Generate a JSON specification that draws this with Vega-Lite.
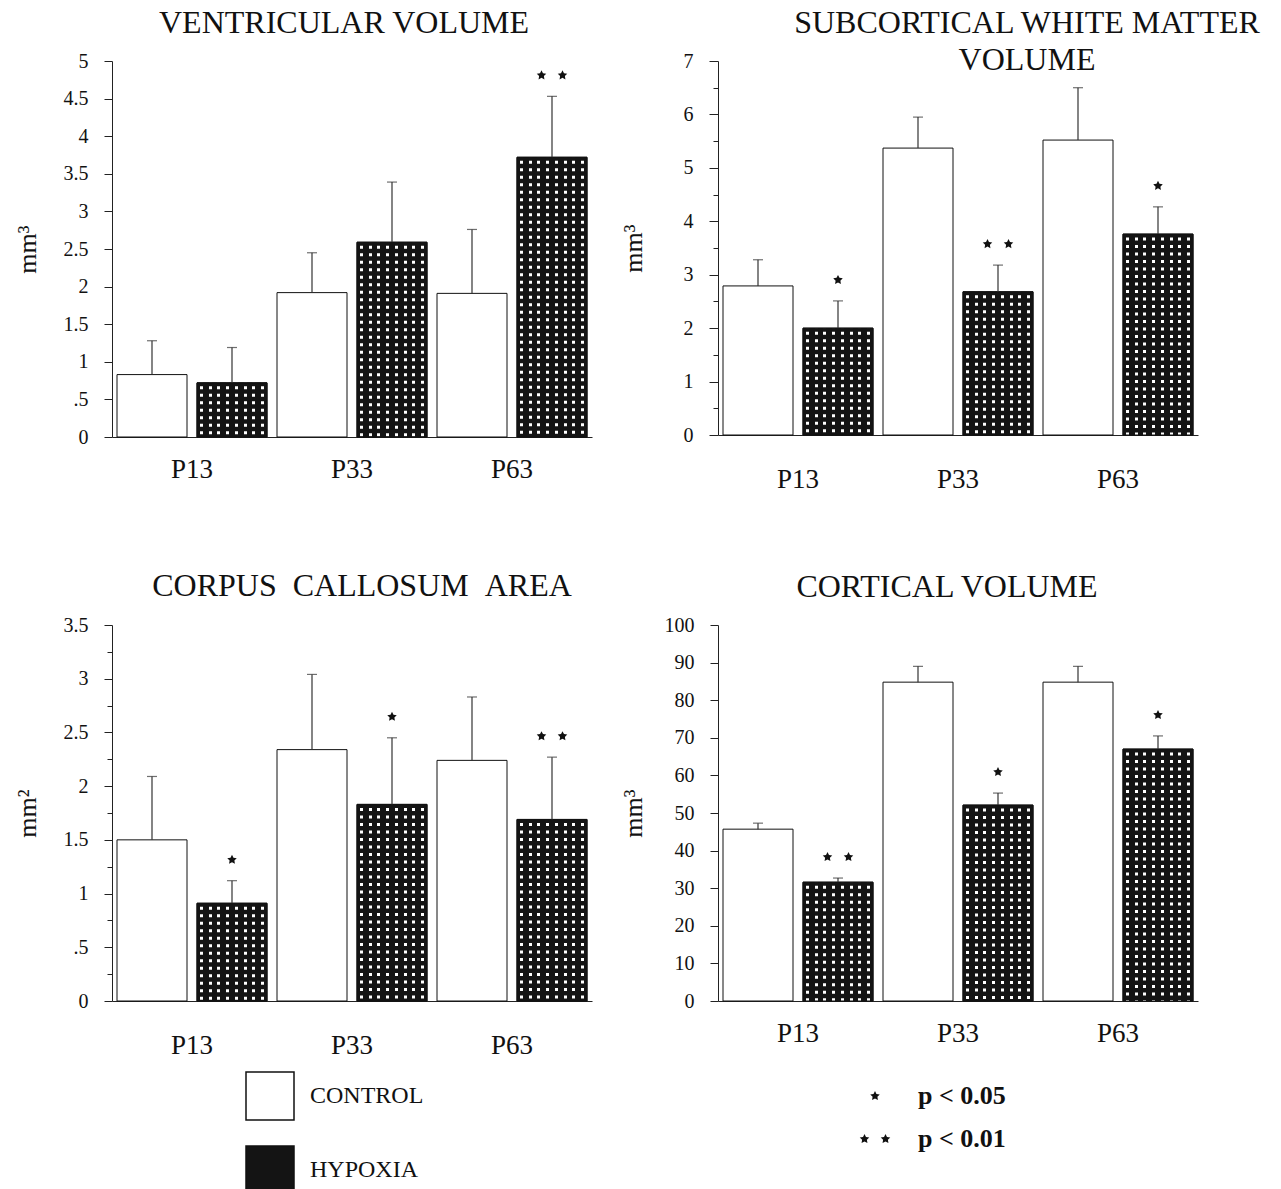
{
  "$schema": "https://vega.github.io/schema/vega-lite/v6.json",
  "padding": {"left": 14, "top": 7, "right": 0, "bottom": 0},
  "background": "white",
  "datasets": {
    "d": [
      {"panel": "V", "age": "P13", "group": "CONTROL", "mean": 0.83, "err": 1.28},
      {"panel": "V", "age": "P13", "group": "HYPOXIA", "mean": 0.72, "err": 1.19},
      {"panel": "V", "age": "P33", "group": "CONTROL", "mean": 1.92, "err": 2.45},
      {"panel": "V", "age": "P33", "group": "HYPOXIA", "mean": 2.59, "err": 3.39},
      {"panel": "V", "age": "P63", "group": "CONTROL", "mean": 1.91, "err": 2.76},
      {"panel": "V", "age": "P63", "group": "HYPOXIA", "mean": 3.72, "err": 4.53, "sig": "p < 0.01"},
      {"panel": "S", "age": "P13", "group": "CONTROL", "mean": 2.79, "err": 3.28},
      {"panel": "S", "age": "P13", "group": "HYPOXIA", "mean": 2.0, "err": 2.51, "sig": "p < 0.05"},
      {"panel": "S", "age": "P33", "group": "CONTROL", "mean": 5.37, "err": 5.95},
      {"panel": "S", "age": "P33", "group": "HYPOXIA", "mean": 2.68, "err": 3.18, "sig": "p < 0.01"},
      {"panel": "S", "age": "P63", "group": "CONTROL", "mean": 5.52, "err": 6.5},
      {"panel": "S", "age": "P63", "group": "HYPOXIA", "mean": 3.76, "err": 4.27, "sig": "p < 0.05"},
      {"panel": "C", "age": "P13", "group": "CONTROL", "mean": 1.5, "err": 2.09},
      {"panel": "C", "age": "P13", "group": "HYPOXIA", "mean": 0.91, "err": 1.12, "sig": "p < 0.05"},
      {"panel": "C", "age": "P33", "group": "CONTROL", "mean": 2.34, "err": 3.04},
      {"panel": "C", "age": "P33", "group": "HYPOXIA", "mean": 1.83, "err": 2.45, "sig": "p < 0.05"},
      {"panel": "C", "age": "P63", "group": "CONTROL", "mean": 2.24, "err": 2.83},
      {"panel": "C", "age": "P63", "group": "HYPOXIA", "mean": 1.69, "err": 2.27, "sig": "p < 0.01"},
      {"panel": "K", "age": "P13", "group": "CONTROL", "mean": 45.7, "err": 47.3},
      {"panel": "K", "age": "P13", "group": "HYPOXIA", "mean": 31.6, "err": 32.7, "sig": "p < 0.01"},
      {"panel": "K", "age": "P33", "group": "CONTROL", "mean": 84.8, "err": 89},
      {"panel": "K", "age": "P33", "group": "HYPOXIA", "mean": 52.1, "err": 55.3, "sig": "p < 0.05"},
      {"panel": "K", "age": "P63", "group": "CONTROL", "mean": 84.8, "err": 89},
      {"panel": "K", "age": "P63", "group": "HYPOXIA", "mean": 67, "err": 70.5, "sig": "p < 0.05"}
    ]
  },
  "columns": 2,
  "spacing": {"row": 188, "column": 126},
  "bounds": "flush",
  "resolve": {"scale": {"x": "independent", "y": "independent"}},
  "concat": [
    {
      "width": 480, "height": 376,
      "data": {"name": "d"},
      "transform": [{"filter": "datum.panel == 'V'"}],
      "title": {"text": "VENTRICULAR VOLUME", "dx": -8, "offset": -14, "baseline": "alphabetic", "anchor": "middle"},
      "encoding": {
        "x": {"field": "age", "type": "nominal", "title": null, "scale": {"domain": ["P13", "P33", "P63"], "paddingInner": 0, "paddingOuter": 0}, "axis": {"labelPadding": 19}},
        "xOffset": {"field": "group", "type": "nominal", "scale": {"domain": ["CONTROL", "HYPOXIA"], "paddingInner": 0.125, "paddingOuter": 0.0625}}
      },
      "layer": [
        {"mark": {"type": "bar", "stroke": "#111", "strokeWidth": 1},
         "encoding": {
           "y": {"field": "mean", "type": "quantitative", "title": "mm³", "scale": {"domain": [0, 5], "nice": false}, "axis": {"values": [0, 0.5, 1, 1.5, 2, 2.5, 3, 3.5, 4, 4.5, 5], "format": "~g", "labelExpr": "datum.value == 0.5 ? '.5' : datum.label"}},
           "fill": {"field": "group", "type": "nominal", "scale": {"domain": ["CONTROL", "HYPOXIA"], "range": ["#ffffff", "#141414"]}, "legend": {"title": null, "orient": "none", "legendX": 133, "legendY": 1010, "direction": "vertical", "symbolType": "square", "symbolSize": 2304, "symbolStrokeColor": "#111", "symbolStrokeWidth": 1.5, "labelFontSize": 24, "labelOffset": 15, "rowPadding": 20, "padding": 0, "labelColor": "#111"}}
         }},
        {"transform": [{"filter": "datum.group == 'HYPOXIA'"}],
         "mark": {"type": "rule", "color": "white", "strokeWidth": 68, "strokeDash": [3, 4.5], "strokeDashOffset": 4, "strokeCap": "butt"},
         "encoding": {"y": {"field": "mean", "type": "quantitative", "title": "mm³", "axis": {"values": [0, 0.5, 1, 1.5, 2, 2.5, 3, 3.5, 4, 4.5, 5], "format": "~g", "labelExpr": "datum.value == 0.5 ? '.5' : datum.label"}}, "y2": {"datum": 0}}},
        {"transform": [{"filter": "datum.group == 'HYPOXIA'"}],
         "mark": {"type": "bar", "stroke": "#111", "strokeWidth": 1, "fill": {"gradient": "linear", "x1": 0, "y1": 0, "x2": 1, "y2": 0, "stops": [
           {"offset": 0, "color": "#141414"}, {"offset": 0.041, "color": "#141414"}, {"offset": 0.041, "color": "rgba(20,20,20,0)"}, {"offset": 0.084, "color": "rgba(20,20,20,0)"}, {"offset": 0.084, "color": "#141414"},
           {"offset": 0.166, "color": "#141414"}, {"offset": 0.166, "color": "rgba(20,20,20,0)"}, {"offset": 0.209, "color": "rgba(20,20,20,0)"}, {"offset": 0.209, "color": "#141414"},
           {"offset": 0.291, "color": "#141414"}, {"offset": 0.291, "color": "rgba(20,20,20,0)"}, {"offset": 0.334, "color": "rgba(20,20,20,0)"}, {"offset": 0.334, "color": "#141414"},
           {"offset": 0.416, "color": "#141414"}, {"offset": 0.416, "color": "rgba(20,20,20,0)"}, {"offset": 0.459, "color": "rgba(20,20,20,0)"}, {"offset": 0.459, "color": "#141414"},
           {"offset": 0.541, "color": "#141414"}, {"offset": 0.541, "color": "rgba(20,20,20,0)"}, {"offset": 0.584, "color": "rgba(20,20,20,0)"}, {"offset": 0.584, "color": "#141414"},
           {"offset": 0.666, "color": "#141414"}, {"offset": 0.666, "color": "rgba(20,20,20,0)"}, {"offset": 0.709, "color": "rgba(20,20,20,0)"}, {"offset": 0.709, "color": "#141414"},
           {"offset": 0.791, "color": "#141414"}, {"offset": 0.791, "color": "rgba(20,20,20,0)"}, {"offset": 0.834, "color": "rgba(20,20,20,0)"}, {"offset": 0.834, "color": "#141414"},
           {"offset": 0.916, "color": "#141414"}, {"offset": 0.916, "color": "rgba(20,20,20,0)"}, {"offset": 0.959, "color": "rgba(20,20,20,0)"}, {"offset": 0.959, "color": "#141414"},
           {"offset": 1, "color": "#141414"}]}},
         "encoding": {"y": {"field": "mean", "type": "quantitative", "title": "mm³", "axis": {"values": [0, 0.5, 1, 1.5, 2, 2.5, 3, 3.5, 4, 4.5, 5], "format": "~g", "labelExpr": "datum.value == 0.5 ? '.5' : datum.label"}}}},
        {"mark": {"type": "rule", "color": "#333", "strokeWidth": 1.2},
         "encoding": {"y": {"field": "mean", "type": "quantitative", "title": "mm³", "axis": {"values": [0, 0.5, 1, 1.5, 2, 2.5, 3, 3.5, 4, 4.5, 5], "format": "~g", "labelExpr": "datum.value == 0.5 ? '.5' : datum.label"}}, "y2": {"field": "err"}}},
        {"mark": {"type": "tick", "color": "#333", "size": 10, "thickness": 1.2, "orient": "horizontal"},
         "encoding": {"y": {"field": "err", "type": "quantitative", "title": "mm³", "axis": {"values": [0, 0.5, 1, 1.5, 2, 2.5, 3, 3.5, 4, 4.5, 5], "format": "~g", "labelExpr": "datum.value == 0.5 ? '.5' : datum.label"}}}},
        {"transform": [{"filter": "isValid(datum.sig)"}],
         "mark": {"type": "point", "filled": true, "color": "#111", "opacity": 1, "size": 100, "yOffset": -21},
         "encoding": {"y": {"field": "err", "type": "quantitative", "title": "mm³", "axis": {"values": [0, 0.5, 1, 1.5, 2, 2.5, 3, 3.5, 4, 4.5, 5], "format": "~g", "labelExpr": "datum.value == 0.5 ? '.5' : datum.label"}},
           "shape": {"field": "sig", "type": "nominal", "scale": {"domain": ["p < 0.05", "p < 0.01"], "range": ["M0,-1L0.294,-0.405L0.951,-0.309L0.476,0.155L0.588,0.809L0,0.5L-0.588,0.809L-0.476,0.155L-0.951,-0.309L-0.294,-0.405Z", "M-2.1,-1L-1.806,-0.405L-1.149,-0.309L-1.624,0.155L-1.512,0.809L-2.1,0.5L-2.688,0.809L-2.576,0.155L-3.051,-0.309L-2.394,-0.405ZM2.1,-1L2.394,-0.405L3.051,-0.309L2.576,0.155L2.688,0.809L2.1,0.5L1.512,0.809L1.624,0.155L1.149,-0.309L1.806,-0.405Z"]},
             "legend": {"title": null, "orient": "none", "legendX": 750, "legendY": 1022, "direction": "vertical", "symbolSize": 100, "symbolFillColor": "#111", "symbolStrokeWidth": 0, "labelFontSize": 26, "labelFontWeight": "bold", "labelOffset": 30, "rowPadding": 17, "padding": 0, "labelColor": "#111"}}}}
      ]
    },
    {
      "width": 480, "height": 374,
      "data": {"name": "d"},
      "transform": [{"filter": "datum.panel == 'S'"}],
      "title": {"text": ["SUBCORTICAL WHITE MATTER", "VOLUME"], "dx": 69, "offset": -51, "baseline": "alphabetic", "anchor": "middle", "lineHeight": 37},
      "encoding": {
        "x": {"field": "age", "type": "nominal", "title": null, "scale": {"domain": ["P13", "P33", "P63"], "paddingInner": 0, "paddingOuter": 0}, "axis": {"labelPadding": 31}},
        "xOffset": {"field": "group", "type": "nominal", "scale": {"domain": ["CONTROL", "HYPOXIA"], "paddingInner": 0.125, "paddingOuter": 0.0625}}
      },
      "layer": [
        {"mark": {"type": "bar", "stroke": "#111", "strokeWidth": 1},
         "encoding": {
           "y": {"field": "mean", "type": "quantitative", "title": "mm³", "scale": {"domain": [0, 7], "nice": false}, "axis": {"values": [0, 0.5, 1, 1.5, 2, 2.5, 3, 3.5, 4, 4.5, 5, 5.5, 6, 6.5, 7], "format": "~g", "labelExpr": "datum.value % 1 == 0 ? datum.label : ''", "tickSize": {"condition": {"test": "datum.value % 1 == 0", "value": 9}, "value": 5}}},
           "fill": {"field": "group", "type": "nominal", "scale": {"domain": ["CONTROL", "HYPOXIA"], "range": ["#ffffff", "#141414"]}, "legend": {"title": null, "orient": "none", "legendX": 133, "legendY": 1010, "direction": "vertical", "symbolType": "square", "symbolSize": 2304, "symbolStrokeColor": "#111", "symbolStrokeWidth": 1.5, "labelFontSize": 24, "labelOffset": 15, "rowPadding": 20, "padding": 0, "labelColor": "#111"}}
         }},
        {"transform": [{"filter": "datum.group == 'HYPOXIA'"}],
         "mark": {"type": "rule", "color": "white", "strokeWidth": 68, "strokeDash": [3, 4.5], "strokeDashOffset": 4, "strokeCap": "butt"},
         "encoding": {"y": {"field": "mean", "type": "quantitative", "title": "mm³", "axis": {"values": [0, 0.5, 1, 1.5, 2, 2.5, 3, 3.5, 4, 4.5, 5, 5.5, 6, 6.5, 7], "format": "~g", "labelExpr": "datum.value % 1 == 0 ? datum.label : ''", "tickSize": {"condition": {"test": "datum.value % 1 == 0", "value": 9}, "value": 5}}}, "y2": {"datum": 0}}},
        {"transform": [{"filter": "datum.group == 'HYPOXIA'"}],
         "mark": {"type": "bar", "stroke": "#111", "strokeWidth": 1, "fill": {"gradient": "linear", "x1": 0, "y1": 0, "x2": 1, "y2": 0, "stops": [
           {"offset": 0, "color": "#141414"}, {"offset": 0.041, "color": "#141414"}, {"offset": 0.041, "color": "rgba(20,20,20,0)"}, {"offset": 0.084, "color": "rgba(20,20,20,0)"}, {"offset": 0.084, "color": "#141414"},
           {"offset": 0.166, "color": "#141414"}, {"offset": 0.166, "color": "rgba(20,20,20,0)"}, {"offset": 0.209, "color": "rgba(20,20,20,0)"}, {"offset": 0.209, "color": "#141414"},
           {"offset": 0.291, "color": "#141414"}, {"offset": 0.291, "color": "rgba(20,20,20,0)"}, {"offset": 0.334, "color": "rgba(20,20,20,0)"}, {"offset": 0.334, "color": "#141414"},
           {"offset": 0.416, "color": "#141414"}, {"offset": 0.416, "color": "rgba(20,20,20,0)"}, {"offset": 0.459, "color": "rgba(20,20,20,0)"}, {"offset": 0.459, "color": "#141414"},
           {"offset": 0.541, "color": "#141414"}, {"offset": 0.541, "color": "rgba(20,20,20,0)"}, {"offset": 0.584, "color": "rgba(20,20,20,0)"}, {"offset": 0.584, "color": "#141414"},
           {"offset": 0.666, "color": "#141414"}, {"offset": 0.666, "color": "rgba(20,20,20,0)"}, {"offset": 0.709, "color": "rgba(20,20,20,0)"}, {"offset": 0.709, "color": "#141414"},
           {"offset": 0.791, "color": "#141414"}, {"offset": 0.791, "color": "rgba(20,20,20,0)"}, {"offset": 0.834, "color": "rgba(20,20,20,0)"}, {"offset": 0.834, "color": "#141414"},
           {"offset": 0.916, "color": "#141414"}, {"offset": 0.916, "color": "rgba(20,20,20,0)"}, {"offset": 0.959, "color": "rgba(20,20,20,0)"}, {"offset": 0.959, "color": "#141414"},
           {"offset": 1, "color": "#141414"}]}},
         "encoding": {"y": {"field": "mean", "type": "quantitative", "title": "mm³", "axis": {"values": [0, 0.5, 1, 1.5, 2, 2.5, 3, 3.5, 4, 4.5, 5, 5.5, 6, 6.5, 7], "format": "~g", "labelExpr": "datum.value % 1 == 0 ? datum.label : ''", "tickSize": {"condition": {"test": "datum.value % 1 == 0", "value": 9}, "value": 5}}}}},
        {"mark": {"type": "rule", "color": "#333", "strokeWidth": 1.2},
         "encoding": {"y": {"field": "mean", "type": "quantitative", "title": "mm³", "axis": {"values": [0, 0.5, 1, 1.5, 2, 2.5, 3, 3.5, 4, 4.5, 5, 5.5, 6, 6.5, 7], "format": "~g", "labelExpr": "datum.value % 1 == 0 ? datum.label : ''", "tickSize": {"condition": {"test": "datum.value % 1 == 0", "value": 9}, "value": 5}}}, "y2": {"field": "err"}}},
        {"mark": {"type": "tick", "color": "#333", "size": 10, "thickness": 1.2, "orient": "horizontal"},
         "encoding": {"y": {"field": "err", "type": "quantitative", "title": "mm³", "axis": {"values": [0, 0.5, 1, 1.5, 2, 2.5, 3, 3.5, 4, 4.5, 5, 5.5, 6, 6.5, 7], "format": "~g", "labelExpr": "datum.value % 1 == 0 ? datum.label : ''", "tickSize": {"condition": {"test": "datum.value % 1 == 0", "value": 9}, "value": 5}}}}},
        {"transform": [{"filter": "isValid(datum.sig)"}],
         "mark": {"type": "point", "filled": true, "color": "#111", "opacity": 1, "size": 100, "yOffset": -21},
         "encoding": {"y": {"field": "err", "type": "quantitative", "title": "mm³", "axis": {"values": [0, 0.5, 1, 1.5, 2, 2.5, 3, 3.5, 4, 4.5, 5, 5.5, 6, 6.5, 7], "format": "~g", "labelExpr": "datum.value % 1 == 0 ? datum.label : ''", "tickSize": {"condition": {"test": "datum.value % 1 == 0", "value": 9}, "value": 5}}},
           "shape": {"field": "sig", "type": "nominal", "scale": {"domain": ["p < 0.05", "p < 0.01"], "range": ["M0,-1L0.294,-0.405L0.951,-0.309L0.476,0.155L0.588,0.809L0,0.5L-0.588,0.809L-0.476,0.155L-0.951,-0.309L-0.294,-0.405Z", "M-2.1,-1L-1.806,-0.405L-1.149,-0.309L-1.624,0.155L-1.512,0.809L-2.1,0.5L-2.688,0.809L-2.576,0.155L-3.051,-0.309L-2.394,-0.405ZM2.1,-1L2.394,-0.405L3.051,-0.309L2.576,0.155L2.688,0.809L2.1,0.5L1.512,0.809L1.624,0.155L1.149,-0.309L1.806,-0.405Z"]},
             "legend": {"title": null, "orient": "none", "legendX": 750, "legendY": 1022, "direction": "vertical", "symbolSize": 100, "symbolFillColor": "#111", "symbolStrokeWidth": 0, "labelFontSize": 26, "labelFontWeight": "bold", "labelOffset": 30, "rowPadding": 17, "padding": 0, "labelColor": "#111"}}}}
      ]
    },
    {
      "width": 480, "height": 376,
      "data": {"name": "d"},
      "transform": [{"filter": "datum.panel == 'C'"}],
      "title": {"text": "CORPUS\u00a0\u00a0CALLOSUM\u00a0\u00a0AREA", "dx": 10, "offset": -13, "baseline": "alphabetic", "anchor": "middle"},
      "encoding": {
        "x": {"field": "age", "type": "nominal", "title": null, "scale": {"domain": ["P13", "P33", "P63"], "paddingInner": 0, "paddingOuter": 0}, "axis": {"labelPadding": 31}},
        "xOffset": {"field": "group", "type": "nominal", "scale": {"domain": ["CONTROL", "HYPOXIA"], "paddingInner": 0.125, "paddingOuter": 0.0625}}
      },
      "layer": [
        {"mark": {"type": "bar", "stroke": "#111", "strokeWidth": 1},
         "encoding": {
           "y": {"field": "mean", "type": "quantitative", "title": "mm²", "scale": {"domain": [0, 3.5], "nice": false}, "axis": {"values": [0, 0.25, 0.5, 0.75, 1, 1.25, 1.5, 1.75, 2, 2.25, 2.5, 2.75, 3, 3.25, 3.5], "format": "~g", "labelExpr": "datum.value % 0.5 == 0 ? (datum.value == 0.5 ? '.5' : datum.label) : ''", "tickSize": {"condition": {"test": "datum.value % 0.5 == 0", "value": 8}, "value": 5}}},
           "fill": {"field": "group", "type": "nominal", "scale": {"domain": ["CONTROL", "HYPOXIA"], "range": ["#ffffff", "#141414"]}, "legend": {"title": null, "orient": "none", "legendX": 133, "legendY": 1010, "direction": "vertical", "symbolType": "square", "symbolSize": 2304, "symbolStrokeColor": "#111", "symbolStrokeWidth": 1.5, "labelFontSize": 24, "labelOffset": 15, "rowPadding": 20, "padding": 0, "labelColor": "#111"}}
         }},
        {"transform": [{"filter": "datum.group == 'HYPOXIA'"}],
         "mark": {"type": "rule", "color": "white", "strokeWidth": 68, "strokeDash": [3, 4.5], "strokeDashOffset": 4, "strokeCap": "butt"},
         "encoding": {"y": {"field": "mean", "type": "quantitative", "title": "mm²", "axis": {"values": [0, 0.25, 0.5, 0.75, 1, 1.25, 1.5, 1.75, 2, 2.25, 2.5, 2.75, 3, 3.25, 3.5], "format": "~g", "labelExpr": "datum.value % 0.5 == 0 ? (datum.value == 0.5 ? '.5' : datum.label) : ''", "tickSize": {"condition": {"test": "datum.value % 0.5 == 0", "value": 8}, "value": 5}}}, "y2": {"datum": 0}}},
        {"transform": [{"filter": "datum.group == 'HYPOXIA'"}],
         "mark": {"type": "bar", "stroke": "#111", "strokeWidth": 1, "fill": {"gradient": "linear", "x1": 0, "y1": 0, "x2": 1, "y2": 0, "stops": [
           {"offset": 0, "color": "#141414"}, {"offset": 0.041, "color": "#141414"}, {"offset": 0.041, "color": "rgba(20,20,20,0)"}, {"offset": 0.084, "color": "rgba(20,20,20,0)"}, {"offset": 0.084, "color": "#141414"},
           {"offset": 0.166, "color": "#141414"}, {"offset": 0.166, "color": "rgba(20,20,20,0)"}, {"offset": 0.209, "color": "rgba(20,20,20,0)"}, {"offset": 0.209, "color": "#141414"},
           {"offset": 0.291, "color": "#141414"}, {"offset": 0.291, "color": "rgba(20,20,20,0)"}, {"offset": 0.334, "color": "rgba(20,20,20,0)"}, {"offset": 0.334, "color": "#141414"},
           {"offset": 0.416, "color": "#141414"}, {"offset": 0.416, "color": "rgba(20,20,20,0)"}, {"offset": 0.459, "color": "rgba(20,20,20,0)"}, {"offset": 0.459, "color": "#141414"},
           {"offset": 0.541, "color": "#141414"}, {"offset": 0.541, "color": "rgba(20,20,20,0)"}, {"offset": 0.584, "color": "rgba(20,20,20,0)"}, {"offset": 0.584, "color": "#141414"},
           {"offset": 0.666, "color": "#141414"}, {"offset": 0.666, "color": "rgba(20,20,20,0)"}, {"offset": 0.709, "color": "rgba(20,20,20,0)"}, {"offset": 0.709, "color": "#141414"},
           {"offset": 0.791, "color": "#141414"}, {"offset": 0.791, "color": "rgba(20,20,20,0)"}, {"offset": 0.834, "color": "rgba(20,20,20,0)"}, {"offset": 0.834, "color": "#141414"},
           {"offset": 0.916, "color": "#141414"}, {"offset": 0.916, "color": "rgba(20,20,20,0)"}, {"offset": 0.959, "color": "rgba(20,20,20,0)"}, {"offset": 0.959, "color": "#141414"},
           {"offset": 1, "color": "#141414"}]}},
         "encoding": {"y": {"field": "mean", "type": "quantitative", "title": "mm²", "axis": {"values": [0, 0.25, 0.5, 0.75, 1, 1.25, 1.5, 1.75, 2, 2.25, 2.5, 2.75, 3, 3.25, 3.5], "format": "~g", "labelExpr": "datum.value % 0.5 == 0 ? (datum.value == 0.5 ? '.5' : datum.label) : ''", "tickSize": {"condition": {"test": "datum.value % 0.5 == 0", "value": 8}, "value": 5}}}}},
        {"mark": {"type": "rule", "color": "#333", "strokeWidth": 1.2},
         "encoding": {"y": {"field": "mean", "type": "quantitative", "title": "mm²", "axis": {"values": [0, 0.25, 0.5, 0.75, 1, 1.25, 1.5, 1.75, 2, 2.25, 2.5, 2.75, 3, 3.25, 3.5], "format": "~g", "labelExpr": "datum.value % 0.5 == 0 ? (datum.value == 0.5 ? '.5' : datum.label) : ''", "tickSize": {"condition": {"test": "datum.value % 0.5 == 0", "value": 8}, "value": 5}}}, "y2": {"field": "err"}}},
        {"mark": {"type": "tick", "color": "#333", "size": 10, "thickness": 1.2, "orient": "horizontal"},
         "encoding": {"y": {"field": "err", "type": "quantitative", "title": "mm²", "axis": {"values": [0, 0.25, 0.5, 0.75, 1, 1.25, 1.5, 1.75, 2, 2.25, 2.5, 2.75, 3, 3.25, 3.5], "format": "~g", "labelExpr": "datum.value % 0.5 == 0 ? (datum.value == 0.5 ? '.5' : datum.label) : ''", "tickSize": {"condition": {"test": "datum.value % 0.5 == 0", "value": 8}, "value": 5}}}}},
        {"transform": [{"filter": "isValid(datum.sig)"}],
         "mark": {"type": "point", "filled": true, "color": "#111", "opacity": 1, "size": 100, "yOffset": -21},
         "encoding": {"y": {"field": "err", "type": "quantitative", "title": "mm²", "axis": {"values": [0, 0.25, 0.5, 0.75, 1, 1.25, 1.5, 1.75, 2, 2.25, 2.5, 2.75, 3, 3.25, 3.5], "format": "~g", "labelExpr": "datum.value % 0.5 == 0 ? (datum.value == 0.5 ? '.5' : datum.label) : ''", "tickSize": {"condition": {"test": "datum.value % 0.5 == 0", "value": 8}, "value": 5}}},
           "shape": {"field": "sig", "type": "nominal", "scale": {"domain": ["p < 0.05", "p < 0.01"], "range": ["M0,-1L0.294,-0.405L0.951,-0.309L0.476,0.155L0.588,0.809L0,0.5L-0.588,0.809L-0.476,0.155L-0.951,-0.309L-0.294,-0.405Z", "M-2.1,-1L-1.806,-0.405L-1.149,-0.309L-1.624,0.155L-1.512,0.809L-2.1,0.5L-2.688,0.809L-2.576,0.155L-3.051,-0.309L-2.394,-0.405ZM2.1,-1L2.394,-0.405L3.051,-0.309L2.576,0.155L2.688,0.809L2.1,0.5L1.512,0.809L1.624,0.155L1.149,-0.309L1.806,-0.405Z"]},
             "legend": {"title": null, "orient": "none", "legendX": 750, "legendY": 1022, "direction": "vertical", "symbolSize": 100, "symbolFillColor": "#111", "symbolStrokeWidth": 0, "labelFontSize": 26, "labelFontWeight": "bold", "labelOffset": 30, "rowPadding": 17, "padding": 0, "labelColor": "#111"}}}}
      ]
    },
    {
      "width": 480, "height": 376,
      "data": {"name": "d"},
      "transform": [{"filter": "datum.panel == 'K'"}],
      "title": {"text": "CORTICAL VOLUME", "dx": -11, "offset": -14, "baseline": "alphabetic", "anchor": "middle"},
      "encoding": {
        "x": {"field": "age", "type": "nominal", "title": null, "scale": {"domain": ["P13", "P33", "P63"], "paddingInner": 0, "paddingOuter": 0}, "axis": {"labelPadding": 19}},
        "xOffset": {"field": "group", "type": "nominal", "scale": {"domain": ["CONTROL", "HYPOXIA"], "paddingInner": 0.125, "paddingOuter": 0.0625}}
      },
      "layer": [
        {"mark": {"type": "bar", "stroke": "#111", "strokeWidth": 1},
         "encoding": {
           "y": {"field": "mean", "type": "quantitative", "title": "mm³", "scale": {"domain": [0, 100], "nice": false}, "axis": {"values": [0, 10, 20, 30, 40, 50, 60, 70, 80, 90, 100], "format": "d"}},
           "fill": {"field": "group", "type": "nominal", "scale": {"domain": ["CONTROL", "HYPOXIA"], "range": ["#ffffff", "#141414"]}, "legend": {"title": null, "orient": "none", "legendX": 133, "legendY": 1010, "direction": "vertical", "symbolType": "square", "symbolSize": 2304, "symbolStrokeColor": "#111", "symbolStrokeWidth": 1.5, "labelFontSize": 24, "labelOffset": 15, "rowPadding": 20, "padding": 0, "labelColor": "#111"}}
         }},
        {"transform": [{"filter": "datum.group == 'HYPOXIA'"}],
         "mark": {"type": "rule", "color": "white", "strokeWidth": 68, "strokeDash": [3, 4.5], "strokeDashOffset": 4, "strokeCap": "butt"},
         "encoding": {"y": {"field": "mean", "type": "quantitative", "title": "mm³", "axis": {"values": [0, 10, 20, 30, 40, 50, 60, 70, 80, 90, 100], "format": "d"}}, "y2": {"datum": 0}}},
        {"transform": [{"filter": "datum.group == 'HYPOXIA'"}],
         "mark": {"type": "bar", "stroke": "#111", "strokeWidth": 1, "fill": {"gradient": "linear", "x1": 0, "y1": 0, "x2": 1, "y2": 0, "stops": [
           {"offset": 0, "color": "#141414"}, {"offset": 0.041, "color": "#141414"}, {"offset": 0.041, "color": "rgba(20,20,20,0)"}, {"offset": 0.084, "color": "rgba(20,20,20,0)"}, {"offset": 0.084, "color": "#141414"},
           {"offset": 0.166, "color": "#141414"}, {"offset": 0.166, "color": "rgba(20,20,20,0)"}, {"offset": 0.209, "color": "rgba(20,20,20,0)"}, {"offset": 0.209, "color": "#141414"},
           {"offset": 0.291, "color": "#141414"}, {"offset": 0.291, "color": "rgba(20,20,20,0)"}, {"offset": 0.334, "color": "rgba(20,20,20,0)"}, {"offset": 0.334, "color": "#141414"},
           {"offset": 0.416, "color": "#141414"}, {"offset": 0.416, "color": "rgba(20,20,20,0)"}, {"offset": 0.459, "color": "rgba(20,20,20,0)"}, {"offset": 0.459, "color": "#141414"},
           {"offset": 0.541, "color": "#141414"}, {"offset": 0.541, "color": "rgba(20,20,20,0)"}, {"offset": 0.584, "color": "rgba(20,20,20,0)"}, {"offset": 0.584, "color": "#141414"},
           {"offset": 0.666, "color": "#141414"}, {"offset": 0.666, "color": "rgba(20,20,20,0)"}, {"offset": 0.709, "color": "rgba(20,20,20,0)"}, {"offset": 0.709, "color": "#141414"},
           {"offset": 0.791, "color": "#141414"}, {"offset": 0.791, "color": "rgba(20,20,20,0)"}, {"offset": 0.834, "color": "rgba(20,20,20,0)"}, {"offset": 0.834, "color": "#141414"},
           {"offset": 0.916, "color": "#141414"}, {"offset": 0.916, "color": "rgba(20,20,20,0)"}, {"offset": 0.959, "color": "rgba(20,20,20,0)"}, {"offset": 0.959, "color": "#141414"},
           {"offset": 1, "color": "#141414"}]}},
         "encoding": {"y": {"field": "mean", "type": "quantitative", "title": "mm³", "axis": {"values": [0, 10, 20, 30, 40, 50, 60, 70, 80, 90, 100], "format": "d"}}}},
        {"mark": {"type": "rule", "color": "#333", "strokeWidth": 1.2},
         "encoding": {"y": {"field": "mean", "type": "quantitative", "title": "mm³", "axis": {"values": [0, 10, 20, 30, 40, 50, 60, 70, 80, 90, 100], "format": "d"}}, "y2": {"field": "err"}}},
        {"mark": {"type": "tick", "color": "#333", "size": 10, "thickness": 1.2, "orient": "horizontal"},
         "encoding": {"y": {"field": "err", "type": "quantitative", "title": "mm³", "axis": {"values": [0, 10, 20, 30, 40, 50, 60, 70, 80, 90, 100], "format": "d"}}}},
        {"transform": [{"filter": "isValid(datum.sig)"}],
         "mark": {"type": "point", "filled": true, "color": "#111", "opacity": 1, "size": 100, "yOffset": -21},
         "encoding": {"y": {"field": "err", "type": "quantitative", "title": "mm³", "axis": {"values": [0, 10, 20, 30, 40, 50, 60, 70, 80, 90, 100], "format": "d"}},
           "shape": {"field": "sig", "type": "nominal", "scale": {"domain": ["p < 0.05", "p < 0.01"], "range": ["M0,-1L0.294,-0.405L0.951,-0.309L0.476,0.155L0.588,0.809L0,0.5L-0.588,0.809L-0.476,0.155L-0.951,-0.309L-0.294,-0.405Z", "M-2.1,-1L-1.806,-0.405L-1.149,-0.309L-1.624,0.155L-1.512,0.809L-2.1,0.5L-2.688,0.809L-2.576,0.155L-3.051,-0.309L-2.394,-0.405ZM2.1,-1L2.394,-0.405L3.051,-0.309L2.576,0.155L2.688,0.809L2.1,0.5L1.512,0.809L1.624,0.155L1.149,-0.309L1.806,-0.405Z"]},
             "legend": {"title": null, "orient": "none", "legendX": 750, "legendY": 1022, "direction": "vertical", "symbolSize": 100, "symbolFillColor": "#111", "symbolStrokeWidth": 0, "labelFontSize": 26, "labelFontWeight": "bold", "labelOffset": 30, "rowPadding": 17, "padding": 0, "labelColor": "#111"}}}}
      ]
    }
  ],
  "config": {
    "font": "Liberation Serif",
    "view": {"stroke": null},
    "axis": {"labelFont": "Liberation Serif", "titleFont": "Liberation Serif", "domainColor": "#222", "tickColor": "#222", "labelColor": "#111", "titleColor": "#111", "grid": false, "titleFontWeight": "normal"},
    "axisY": {"labelFontSize": 20, "tickSize": 8, "labelPadding": 16, "titleFontSize": 26, "titlePadding": 16, "minExtent": 56, "maxExtent": 56},
    "axisX": {"labelFontSize": 27, "ticks": false, "labelAngle": 0},
    "title": {"font": "Liberation Serif", "fontSize": 32, "fontWeight": "normal", "color": "#111", "frame": "group"},
    "legend": {"labelFont": "Liberation Serif"}
  }
}
